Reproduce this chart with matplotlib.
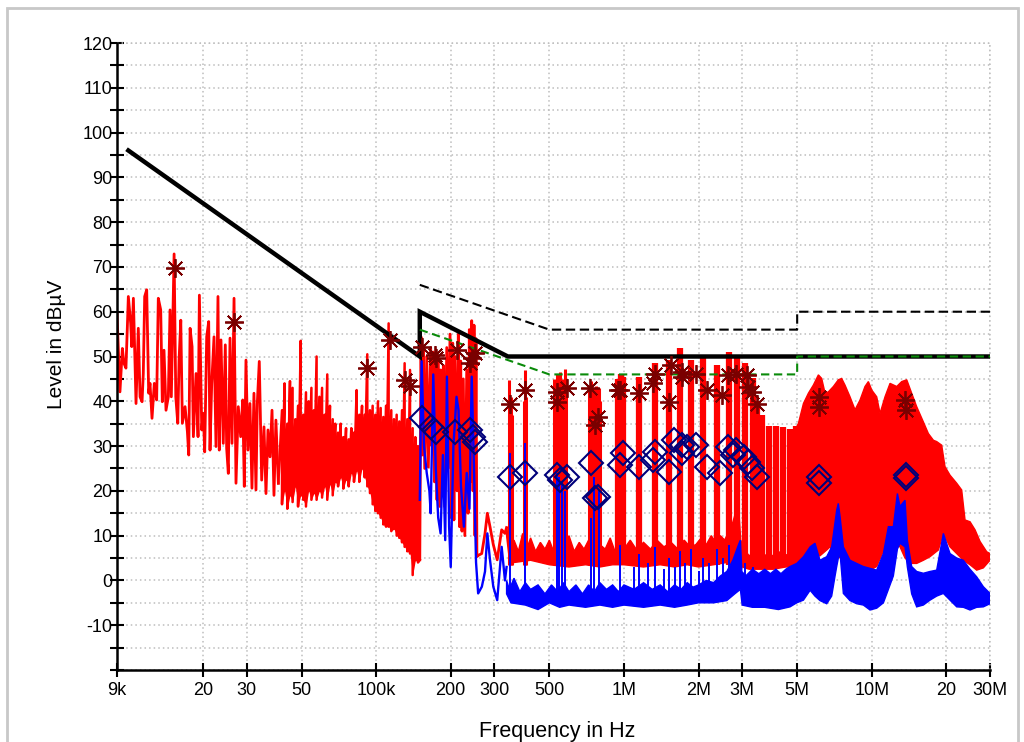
import numpy as np
import matplotlib
matplotlib.use("Agg")
import matplotlib.pyplot as plt
from matplotlib.patches import Rectangle
from matplotlib.ticker import FixedLocator, NullFormatter

plt.rcParams['font.family'] = ['Liberation Sans', 'DejaVu Sans']

# ---------------- data (frequency in kHz, level in dBuV) ----------------
# peak trace 9 kHz .. 40 kHz (sequence)
red_lf_f = [9.0, 9.25, 9.46, 9.60, 9.78, 9.91, 10.0, 10.22, 10.32, 10.48, 10.74, 10.97, 11.15, 11.36,
            11.49, 11.64, 11.86, 12.08, 12.23, 12.46, 12.73, 13.01, 13.21, 13.51, 13.71, 13.93, 14.19,
            14.50, 14.73, 14.91, 15.3, 15.54, 15.83, 16.02, 16.28, 16.52, 16.94, 17.31, 17.53, 17.75,
            18.08, 18.3, 18.76, 19.11, 19.35, 19.78, 20.07, 20.33, 20.71, 21.1, 21.36, 21.7, 22.17,
            22.58, 23.0, 23.28, 23.65, 24.16, 24.62, 24.93, 25.32, 25.72, 26.2, 26.7, 27.19, 27.78,
            28.4, 28.94, 29.37, 29.83, 30.39, 30.96, 31.54, 32.13, 32.74, 33.14, 33.76, 34.52, 35.27,
            35.93, 36.6, 37.3, 38.0, 38.7, 39.4, 40.3]
red_lf_v = [59.6, 42.1, 51.8, 48.5, 47.4, 56.7, 63.4, 57.4, 52.2, 63.0, 39.5, 56.3, 41.0, 39.9,
            46.2, 63.4, 64.9, 41.8, 44.0, 36.2, 44.0, 40.3, 63.0, 60.4, 39.9, 51.4, 38.0,
            41.0, 60.4, 41.0, 72.9, 41.0, 35.1, 49.2, 58.1, 35.1, 38.8, 33.2, 28.0, 56.3,
            52.2, 32.1, 46.2, 32.1, 63.7, 33.6, 37.3, 28.7, 54.4, 57.8, 29.1, 44.0, 54.4,
            29.9, 63.4, 29.1, 53.7, 30.6, 52.6, 29.5, 23.9, 54.1, 30.6, 63.0, 21.7, 38.8,
            32.1, 40.3, 21.0, 49.2, 29.1, 39.5, 20.6, 41.8, 20.2, 39.5, 48.9, 22.4, 34.3,
            19.4, 33.6, 27.6, 38.0, 19.0, 35.8, 21.7]

# peak trace 41 kHz .. 150 kHz (dense: high / low of each sample, solid core top)
red_mid_f = [41.7, 42.7, 43.8, 44.9, 46.0, 47.2, 48.4, 49.6, 50.8, 52.1, 53.4, 54.8, 56.1, 57.5, 59.0,
             60.5, 62.0, 63.5, 65.1, 66.8, 68.4, 70.2, 71.9, 73.7, 75.6, 77.5, 79.4, 81.4, 83.4, 85.5,
             87.7, 89.9, 92.1, 94.4, 96.8, 99.2, 101.7, 104.3, 106.9, 109.6, 112.3, 115.1, 118.0,
             121.0, 124.0, 127.2, 130.3, 133.6, 137.0, 140.4, 143.9, 147.5]
red_mid_hi = [38, 44, 35, 44.5, 43, 36, 39, 53.5, 37, 42, 40, 43, 38, 50, 41, 43, 37, 46, 39, 36, 35,
              33, 35, 32, 34, 31.5, 34, 33, 42.5, 37, 39, 37, 50.5, 38, 39, 37, 40, 38.5, 36.5, 39,
              57.4, 38, 36, 37, 35.5, 38, 48.5, 36, 47, 34, 32, 30]
red_mid_lo = [17, 20, 16, 19, 17.5, 21, 16.5, 19, 18, 16.5, 20, 18, 19.5, 18, 20, 18.5, 21, 18, 21.5,
              19, 22, 21, 23, 20.5, 22.5, 21, 24, 22, 24.5, 22, 25, 23, 21, 19.5, 17, 15.5, 15, 14,
              12.5, 12, 12, 11, 11.5, 10, 9.5, 8.5, 7.5, 6.5, 6, 1.2, 4.5, 4]
red_mid_core = [31, 32, 30, 33, 31, 32, 30, 33, 31, 32, 30, 33, 31, 32, 30, 32, 30, 31, 29, 30, 28,
                29, 30, 28, 30, 29, 31, 30, 33, 32, 34, 33, 35, 34, 35, 34, 35, 34, 33, 34,
                33, 33, 32, 33, 31, 32, 31, 30, 30, 28, 27, 26]

# peak trace 150 kHz .. 336 kHz (sequence)
red_hf_f = [150.0, 151.7, 153.5, 155, 157, 160, 162.4, 166, 168, 170, 172, 174.4, 176, 178.2, 181,
            182.2, 184, 186.7, 189, 192.7, 195, 198.7, 201, 203.7, 206, 208, 212, 214.6, 217, 219.4,
            222, 224.8, 228, 232, 235, 237.7, 240, 243, 246, 248.3, 250.5, 252.9, 255, 258.4, 266.7,
            275, 281, 288, 297, 308, 321, 331, 336]
red_hf_v = [4.6, 54.4, 28, 52, 25, 50, 25.3, 52, 30, 51, 22, 50.5, 18, 49, 16.5, 47, 20, 48, 16.5, 52,
            25, 55, 14, 53, 13.5, 50, 20, 55, 12, 49, 11, 45, 10, 47, 15, 56, 22, 58, 20, 57, 10, 54,
            5.3, 5.6, 6, 10.5, 15, 12, 8, 4.6, 11.3, 10.5, 11.8]

# peak trace: narrow harmonic clusters 340 kHz .. 800 kHz
red_spk_f = [345, 349, 353, 394, 399, 403, 522, 530, 538, 546, 554, 562, 570, 578, 586,
             724, 734, 744, 754, 764, 774, 784, 794, 804]
red_spk_v = [44.8, 41, 37, 40, 47, 41, 45, 43, 46, 44, 46.5, 44, 45, 47.3, 44,
             43.5, 44.5, 42, 43, 42, 43.5, 41, 43, 40]

# peak trace: wide harmonic bars 0.95 MHz .. 5 MHz
red_bar_f = [950, 970, 990, 1154, 1335, 1525, 1684, 1860, 2090, 2380, 2660, 2870, 3080, 3310, 3450,
             3600, 3840, 4100, 4370, 4660, 4950]
red_bar_v = [45, 46, 45.5, 45.5, 48.5, 49.2, 51.8, 49.2, 50.0, 48.1, 51.1, 50.3, 48.5, 45.1, 40,
             36.9, 34.5, 34.5, 34.3, 33.9, 34.5]

# peak trace noise floor envelope 336 kHz .. 30 MHz
red_top_f = [336, 345, 360, 375, 390, 405, 420, 440, 460, 480, 500, 520, 545, 570, 600, 630, 660, 690,
             720, 760, 800, 840, 880, 920, 960, 1000, 1060, 1120, 1200, 1280, 1360, 1450, 1550, 1650,
             1750, 1850, 1950, 2050, 2150, 2250, 2350, 2450, 2550, 2650, 2750, 2850, 2920, 2960, 3050,
             3200, 3400, 3600, 3800, 4000, 4200, 4400, 4700, 4970,
             5000, 5060, 5300, 5550, 5810, 6090, 6280, 6480, 6680, 7000, 7330, 7560, 7800, 8170, 8560,
             8970, 9390, 9690, 10000, 10470, 10800, 11310, 11850, 12610, 13210, 13840, 14490, 15180,
             16150, 16920, 17730, 18280, 19150, 19750, 20690, 22020, 23060, 23790, 24920, 26110,
             27350, 29100, 30000]
red_top_v = [11.8, 7, 9, 6.5, 10.5, 7, 9.5, 6.5, 8.5, 7, 9, 6.5, 8, 7, 10, 6.5, 8.5, 7,
             9, 6.5, 8, 7, 9.5, 6.5, 8, 7, 9, 7, 8.5, 7, 9, 7.5, 8.5, 7,
             9, 7.5, 8, 9.5, 8, 10, 8.5, 10, 9, 11, 13, 16, 14, 9, 7,
             5.5, 6.5, 5, 6, 5.5, 6.5, 5.5, 6, 7,
             34.5, 35.1, 39.5, 41.8, 43.6, 45.9, 45.1, 41.8, 42.1, 43.3, 44.8, 45.1, 43.6, 41.0, 38.1,
             40.3, 43.3, 44.4, 42.5, 41.0, 37.3, 41.0, 44.0, 43.3, 44.4, 44.8, 41.8, 38.8,
             35.4, 32.8, 31.3, 31.0, 30.2, 25.4, 23.5, 21.7, 20.2, 13.5, 13.1, 11.3,
             8.7, 6.4, 6.0]
red_bot_f = [336, 345, 360, 420, 500, 600, 700, 800, 900, 1000, 1200, 1400, 1600, 1800, 2000, 2300,
             2600, 2800, 2900, 3000, 3200, 3600, 4000, 4500, 4680, 4980, 5300, 5640, 5900, 6180, 6580,
             6790, 7110, 7330, 7680, 8170, 8690, 9250, 9840, 10470, 11140, 11670, 12040, 12690, 13000,
             13620, 13920, 14490, 15180, 16150, 17180, 18570, 19450, 20690, 22020, 23420, 24920,
             26510, 28200, 30000]
red_bot_v = [10, 4.5, 4, 4.5, 3.5, 3, 3.5, 3, 3.5, 3.5, 3, 3.5, 3, 3.5, 3, 3.5,
             4, 4.5, 5, 3, 2.5, 2.5, 2.5, 3, 3, 3.1, 3.8, 4.5, 5.2, 5.5, 6.8,
             7.5, 6, 5.3, 4.5, 3.8, 3.8, 2.5, 2.3, 3.1, 6.5, 7.5, 9.0, 8.0, 7.5,
             5, 4.5, 3.8, 3.8, 4.5, 5.3, 6.8, 10.5, 7.5, 6, 4.5, 3.5,
             2.3, 2.8, 4.5]

# average trace 150 kHz .. 336 kHz (sequence)
blue_hf_f = [150.0, 152.6, 156, 160, 164, 166, 170, 174, 178, 182, 186, 190, 193, 197, 200, 205, 211,
             215, 220, 226, 232, 238, 243, 248, 253, 258, 267, 275, 281, 288, 297, 308, 321, 331, 336]
blue_hf_v = [18, 49, 30, 24, 20, 15, 46, 25, 14, 10.5, 28, 9, 45.5, 12, 3, 30, 41,
             38, 21, 12, 24, 16, 45.5, 26, 4, -2.9, -1.4, 2, 10.5, 4.6, -1.4, -4.4, 7.5, 0, 3]

# average trace harmonic spikes
blue_spk_f = [347, 399, 535, 545, 560, 580, 735, 760, 790, 965, 1100, 1154, 1250, 1335, 1450, 1525,
              1600, 1684, 1770, 1860, 2000, 2090, 2200, 2380, 2500, 2660, 3080, 3310]
blue_spk_v = [28.4, 30.6, 24, 23, 22, 20, 14, 23, 20, 8, 3, 6, 4, 7.5, 2.5, 5,
              3, 6.5, 4, 7, 2, 5, 4, 7, 5, 8, 4, 3]

# average trace noise floor envelope 336 kHz .. 30 MHz
blue_top_f = [336, 345, 360, 380, 400, 420, 450, 480, 510, 540, 570, 600, 640, 680, 720, 760, 800, 850,
              900, 950, 1000, 1100, 1200, 1300, 1400, 1500, 1600, 1700, 1800, 1900, 2000, 2150, 2300,
              2450, 2600, 2750, 2900, 2950, 2990, 3100, 3300, 3500, 3700, 3900, 4100, 4300, 4500,
              4680, 4980, 5300, 5640, 5900, 6180, 6580, 6890, 7110, 7220, 7330, 7450, 7680, 8170, 8690,
              9250, 9840, 10470, 11140, 11670, 12220, 12690, 13000, 13620, 13920, 14490, 15180, 16150,
              17180, 18280, 19450, 20690, 22020, 23420, 24920, 26510, 28200, 30000]
blue_top_v = [0, -2, 0.5, -2.5, -0.5, -2, -1, -3, -1, -2.5, -0.5, -2.5, -1, -3, -1, -2.5, -0.5, -2,
              -1, -2.5, -1, -2, -0.5, -2, -1, -2.5, -1, -2, -0.5, -1.5, -1, 0, -0.5,
              1, 2, 4.5, 8, 9, 2, 1, 2.5, 1.5, 2.5, 1.5, 2.5, 1.5, 2.5,
              3.1, 3.8, 5.3, 7.5, 8.3, 4.5, 5.3, 7.5, 13, 15.7, 17.2, 14.2, 7.5, 4.5, 3.8,
              3.1, 2.7, 2.3, 6.0, 12.0, 12.0, 19.4, 16.5, 17.9, 9.0, 3.1, 2.0, 1.6,
              2.0, 2.3, 10.5, 6.0, 5.0, 4.5, 2.5, 0.8, -1.4, -2.9]
blue_bot_f = [336, 350, 400, 450, 500, 550, 600, 700, 800, 900, 1000, 1200, 1400, 1600, 1800, 2000,
              2300, 2600, 2800, 2950, 3000, 3300, 3700, 4200,
              4680, 4980, 5300, 5640, 5900, 6180, 6580, 6890, 7110, 7220, 7330, 7450, 7680, 8170, 8690,
              9250, 9840, 10470, 11140, 11670, 12220, 12690, 13000, 13620, 13920, 14490, 15180, 16150,
              17180, 18280, 19450, 20690, 22020, 23420, 24920, 26510, 28200, 30000]
blue_bot_v = [-3, -5, -5.5, -6.5, -5, -6, -5.5, -6, -5.5, -6, -5.5, -6, -5.5, -6, -5.5, -5,
              -5, -4.5, -3, -2, -5.5, -6, -6, -6.5,
              -5.9, -5, -4.4, -2.2, -3.5, -4.5, -5.2, -3.5, 1, 3.1, 5, 6, -2.9, -4.5, -5.2,
              -5.5, -6.6, -6.2, -5, -2, 1, 7, 8.3, 7.5, 3, -3, -5.9, -5.5,
              -4.4, -3.5, -2.9, -4.4, -5.9, -6, -6.6, -6, -5.9, -5.2]

# limit lines
lim_main_f = [10, 150, 150, 340, 30000]
lim_main_v = [96, 50, 60, 50, 50]
lim_qp_f = [150, 500, 5000, 5000, 30000]
lim_qp_v = [66, 56, 56, 60, 60]
lim_av_f = [150, 500, 5000, 5000, 30000]
lim_av_v = [56, 46, 46, 50, 50]

# final measurement markers
qp_f = [15.4, 26.7, 91.8, 113.8, 130.7, 137, 153, 173, 175, 211, 240, 243, 251, 347, 399, 535, 535,
        588, 730, 764, 788, 950, 964, 1154, 1310, 1335, 1525, 1550, 1710, 1710, 1950, 2160, 2480,
        2640, 2830, 3130, 3180, 3280, 3430, 6140, 6140, 13600, 13800]
qp_v = [69.7, 57.7, 47.4, 53.7, 44.7, 43.4, 52.2, 50.3, 49.6, 51.5, 48.5, 49.6, 50.7, 39.5, 42.5,
        42.1, 39.9, 42.9, 42.9, 34.7, 36.6, 42.5, 42.5, 41.8, 44.0, 46.2, 39.9, 48.1, 46.6, 45.5,
        46.2, 42.5, 41.4, 45.9, 46.2, 45.9, 43.3, 42.1, 39.5, 41.0, 38.8, 40.3, 38.1]
av_f = [153, 167, 174, 208, 240, 247, 251, 347, 399, 535, 551, 588, 734, 764, 788, 964, 990, 1154,
        1310, 1335, 1525, 1590, 1710, 1710, 1790, 1950, 2160, 2450, 2640, 2750, 2830, 3050, 3180,
        3280, 3430, 6140, 6140, 13700, 13800]
av_v = [36.2, 34.3, 33.2, 33.2, 33.6, 32.1, 31.0, 23.2, 23.9, 23.5, 22.4, 23.2, 26.3, 18.3, 18.7,
        25.8, 28.4, 25.4, 26.9, 28.7, 24.3, 31.4, 30.2, 28.4, 29.8, 30.2, 25.4, 23.9, 29.8, 28.0,
        29.1, 27.6, 26.5, 25.0, 23.2, 23.2, 21.7, 23.5, 22.8]

xtick_hz = [9e3, 2e4, 3e4, 5e4, 1e5, 2e5, 3e5, 5e5, 1e6, 2e6, 3e6, 5e6, 1e7, 2e7, 3e7]
xtick_lbl = ["9k", "20", "30", "50", "100k", "200", "300", "500", "1M", "2M", "3M", "5M", "10M", "20", "30M"]

# ---------------- plotting ----------------
K = 1e3
RED = '#ff0000'
BLUE = '#0000ff'

fig = plt.figure(figsize=(10.24, 7.42), dpi=100)
fig.patch.set_facecolor('white')
fig.patches.append(Rectangle((7 / 1024, -0.01), 1011 / 1024, 0.999, transform=fig.transFigure,
                             fill=False, edgecolor='#c8c8c8', linewidth=2.0))
ax = fig.add_axes([117 / 1024, 72 / 742, 873 / 1024, 627 / 742])
ax.set_xscale('log')
ax.set_xlim(9e3, 3e7)
ax.set_ylim(-20, 120)

# peak trace
ax.plot(np.array(red_lf_f) * K, red_lf_v, color=RED, lw=2.0, zorder=2)
ax.fill_between(np.array(red_mid_f) * K, red_mid_lo, red_mid_core, color=RED, lw=0, zorder=2)
mid_x = np.repeat(np.array(red_mid_f) * K, 2)
mid_y = np.column_stack([red_mid_hi, red_mid_lo]).ravel()
ax.plot(np.r_[red_lf_f[-1] * K, mid_x, red_hf_f[0] * K], np.r_[red_lf_v[-1], mid_y, red_hf_v[0]],
        color=RED, lw=1.8, zorder=2)
ax.plot(np.array(red_hf_f) * K, red_hf_v, color=RED, lw=2.0, zorder=2)
ax.fill(np.r_[np.array(red_top_f), np.array(red_bot_f)[::-1]] * K,
        np.r_[red_top_v, np.array(red_bot_v)[::-1]], color=RED, lw=1.0, zorder=2)
ax.vlines(np.array(red_spk_f) * K, 3.5, red_spk_v, color=RED, lw=2.2, zorder=2)
ax.vlines(np.array(red_bar_f) * K, 3.5, red_bar_v, color=RED, lw=4.5, zorder=2)

# average trace
ax.plot(np.array(blue_hf_f) * K, blue_hf_v, color=BLUE, lw=1.7, zorder=3)
ax.fill(np.r_[np.array(blue_top_f), np.array(blue_bot_f)[::-1]] * K,
        np.r_[blue_top_v, np.array(blue_bot_v)[::-1]], color=BLUE, lw=1.0, zorder=3)
ax.vlines(np.array(blue_spk_f) * K, -4, blue_spk_v, color=BLUE, lw=1.4, zorder=3)

# limits
ax.plot(np.array(lim_main_f) * K, lim_main_v, color='black', lw=3.2, zorder=4,
        solid_joinstyle='miter')
ax.plot(np.array(lim_qp_f) * K, lim_qp_v, color='black', lw=1.5, dashes=(4.5, 2.2), zorder=4)
ax.plot(np.array(lim_av_f) * K, lim_av_v, color='#0a8a0a', lw=1.5, dashes=(4.0, 2.2), zorder=4)

# markers
ax.plot(np.array(qp_f) * K, qp_v, ls='none', marker=(8, 2, 0), ms=13.5, mew=1.3,
        color='#7a0000', zorder=5)
ax.plot(np.array(av_f) * K, av_v, ls='none', marker='D', ms=12, mew=1.5, mfc='none',
        mec='#00007a', zorder=5)

# axes styling
for s in ['top', 'right']:
    ax.spines[s].set_visible(False)
for s in ['left', 'bottom']:
    ax.spines[s].set_linewidth(1.8)
    ax.spines[s].set_color('black')

ax.set_xticks(xtick_hz)
ax.set_xticklabels(xtick_lbl)
ax.xaxis.set_minor_locator(FixedLocator([]))
ax.set_yticks(np.arange(-20, 121, 10))
ax.set_yticklabels([''] + [str(v) for v in range(-10, 121, 10)])
ax.set_yticks(np.arange(-15, 121, 10), minor=True)
ax.yaxis.set_minor_formatter(NullFormatter())

ax.tick_params(axis='both', which='both', direction='inout', length=9.5, width=1.5, color='black')
ax.tick_params(axis='y', which='both', pad=-1.5, labelsize=13)
ax.tick_params(axis='x', which='major', pad=4.0, labelsize=13)

ax.grid(True, which='both', axis='y', color='#bdbdbd', lw=1.1, ls=(0, (1, 2)))
ax.grid(True, which='major', axis='x', color='#bdbdbd', lw=1.1, ls=(0, (1, 2)))
ax.set_axisbelow(True)
ax.axhline(120, color='#bdbdbd', lw=1.1, ls=(0, (1, 2)), zorder=1, clip_on=False)
ax.axvline(3e7, color='#bdbdbd', lw=1.1, ls=(0, (1, 2)), zorder=1, clip_on=False)

fig.text(557 / 1024, 1 - 731 / 742, 'Frequency in Hz', ha='center', va='center', fontsize=15.5)
fig.text(57 / 1024, 1 - 344 / 742, 'Level in dBµV', ha='center', va='center', rotation=90, fontsize=15)

fig.savefig('out.png', dpi=100, facecolor='white')
